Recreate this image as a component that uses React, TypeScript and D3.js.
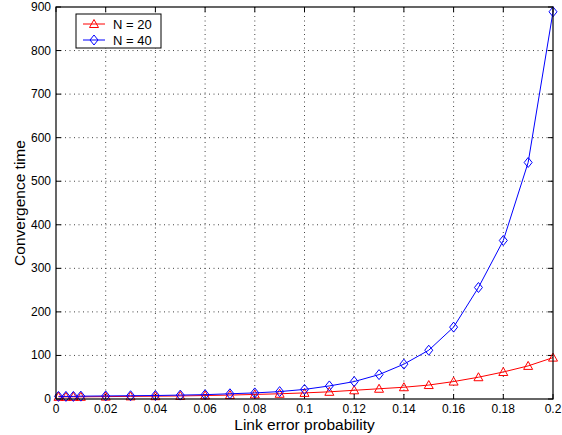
import React from "react";
import * as d3 from "d3";

const xValues = [0.001, 0.004, 0.007, 0.01, 0.02, 0.03, 0.04, 0.05, 0.06, 0.07, 0.08, 0.09, 0.1, 0.11, 0.12, 0.13, 0.14, 0.15, 0.16, 0.17, 0.18, 0.19, 0.2];
const n20 = [5, 5, 5, 5, 5.5, 6, 6.5, 7, 8, 9, 10.5, 12, 14, 16.5, 20, 23.5, 27, 32, 40, 50, 62, 76, 95];
const n40 = [6, 6, 6, 6.5, 7, 7.5, 8, 9, 10, 12, 14, 17, 22, 30, 40, 56, 80, 112, 165, 256, 364, 543, 889];
const xTicks = [0, 0.02, 0.04, 0.06, 0.08, 0.1, 0.12, 0.14, 0.16, 0.18, 0.2];
const yTicks = [0, 100, 200, 300, 400, 500, 600, 700, 800, 900];
const seriesNames = ["N = 20", "N = 40"];

const W = 562, H = 435;
const L = 56, R = 553, T = 7, B = 399;

export default function App() {
  const x = d3.scaleLinear().domain([0, 0.2]).range([L, R]);
  const y = d3.scaleLinear().domain([0, 900]).range([B, T]);
  const line = d3.line<[number, number]>().x(d => x(d[0])).y(d => y(d[1]));
  const d20 = xValues.map((v, i) => [v, n20[i]] as [number, number]);
  const d40 = xValues.map((v, i) => [v, n40[i]] as [number, number]);
  const font = "'Liberation Sans', Arial, Helvetica, sans-serif";
  const tri = (cx: number, cy: number) => `M${cx},${cy - 4.5}L${cx + 4.5},${cy + 3.5}L${cx - 4.5},${cy + 3.5}Z`;
  const dia = (cx: number, cy: number) => `M${cx},${cy - 5}L${cx + 4},${cy}L${cx},${cy + 5}L${cx - 4},${cy}Z`;
  return (
    <svg width={W} height={H} style={{ position: "absolute", left: 0, top: 0, background: "#fff" }} fontFamily={font}>
      <rect x={0} y={0} width={W} height={H} fill="#fff" />
      {/* grid */}
      {xTicks.slice(1, -1).map(t => (
        <line key={"gx" + t} x1={x(t)} x2={x(t)} y1={T} y2={B} stroke="#444" strokeWidth={1} strokeDasharray="1,3.5" />
      ))}
      {yTicks.slice(1, -1).map(t => (
        <line key={"gy" + t} x1={L} x2={R} y1={y(t)} y2={y(t)} stroke="#444" strokeWidth={1} strokeDasharray="1,3.5" />
      ))}
      {/* ticks */}
      {xTicks.map(t => (
        <g key={"tx" + t}>
          <line x1={x(t)} x2={x(t)} y1={B} y2={B - 5} stroke="#000" />
          <line x1={x(t)} x2={x(t)} y1={T} y2={T + 5} stroke="#000" />
          <text x={x(t)} y={413} fontSize={12} textAnchor="middle" fill="#000">{String(t)}</text>
        </g>
      ))}
      {yTicks.map(t => (
        <g key={"ty" + t}>
          <line x1={L} x2={L + 5} y1={y(t)} y2={y(t)} stroke="#000" />
          <line x1={R} x2={R - 5} y1={y(t)} y2={y(t)} stroke="#000" />
          <text x={51} y={y(t) + 4} fontSize={12} textAnchor="end" fill="#000">{t}</text>
        </g>
      ))}
      {/* series */}
      <path d={line(d20) || ""} fill="none" stroke="#ff0000" strokeWidth={1} />
      {d20.map((p, i) => (
        <path key={"m20" + i} d={tri(x(p[0]), y(p[1]))} fill="none" stroke="#ff0000" strokeWidth={1} />
      ))}
      <path d={line(d40) || ""} fill="none" stroke="#0000ff" strokeWidth={1} />
      {d40.map((p, i) => (
        <path key={"m40" + i} d={dia(x(p[0]), y(p[1]))} fill="none" stroke="#0000ff" strokeWidth={1} />
      ))}
      {/* frame */}
      <rect x={L} y={T} width={R - L} height={B - T} fill="none" stroke="#000" strokeWidth={1.2} />
      {/* labels */}
      <text x={(L + R) / 2} y={430} fontSize={15.5} textAnchor="middle" fill="#000">Link error probability</text>
      <text transform={`translate(25,${(T + B) / 2}) rotate(-90)`} fontSize={15.5} textAnchor="middle" fill="#000">Convergence time</text>
      {/* legend */}
      <rect x={76} y={14} width={85} height={34} fill="#fff" stroke="#000" strokeWidth={1} />
      <line x1={83} x2={105} y1={24} y2={24} stroke="#ff0000" />
      <path d={tri(94, 24)} fill="none" stroke="#ff0000" />
      <text x={113} y={28.5} fontSize={13} fill="#000">{seriesNames[0]}</text>
      <line x1={83} x2={105} y1={40} y2={40} stroke="#0000ff" />
      <path d={dia(94, 40)} fill="none" stroke="#0000ff" />
      <text x={113} y={44.5} fontSize={13} fill="#000">{seriesNames[1]}</text>
    </svg>
  );
}
